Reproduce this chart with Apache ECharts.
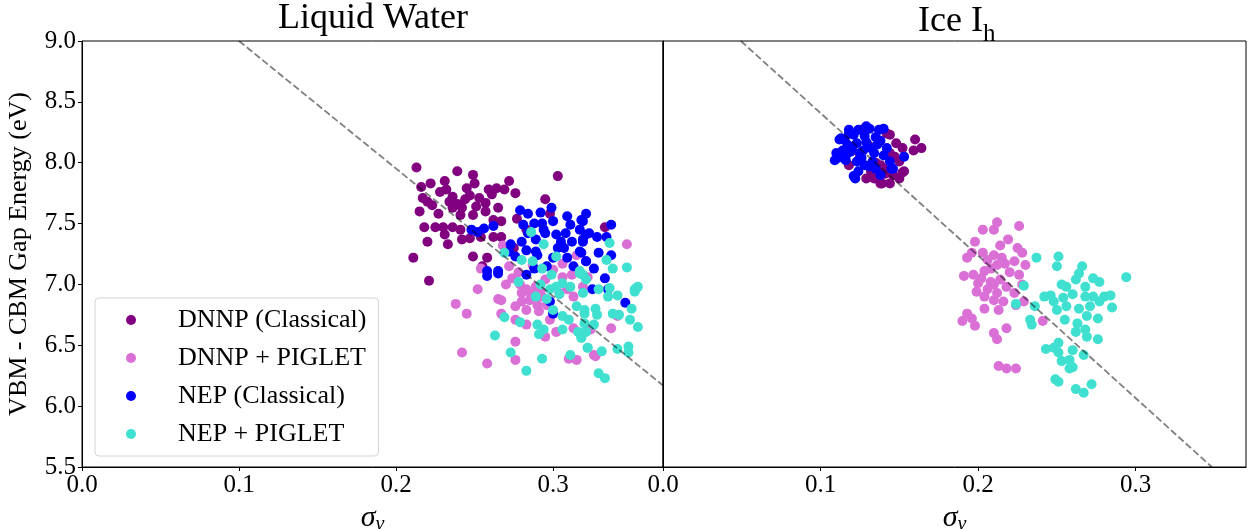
<!DOCTYPE html>
<html>
<head>
<meta charset="utf-8">
<script src="https://cdn.jsdelivr.net/npm/echarts@6/dist/echarts.min.js"></script>
<style>
html,body{margin:0;padding:0;background:#fff;}
#chart{width:1248px;height:529px;}
</style>
</head>
<body>
<div id="chart"></div>
<script>
// ---------- data (sigma_nu, gap energy in eV) ----------
const seriesNames = ['DNNP (Classical)', 'DNNP + PIGLET', 'NEP (Classical)', 'NEP + PIGLET'];
const seriesColors = ['#800080', '#DA70D6', '#0000FF', '#40E0D0'];
const panelTitles = ['Liquid Water', 'Ice I', 'h'];
const yLabel = 'VBM - CBM Gap Energy (eV)';
const xTicks = [0.0, 0.1, 0.2, 0.3];
const yTicks = [5.5, 6.0, 6.5, 7.0, 7.5, 8.0, 8.5, 9.0];

const liquidDnnpClassical = [[0.213,7.96],[0.239,7.93],[0.249,7.90],[0.303,7.89],[0.231,7.85],[0.222,7.83],[0.250,7.83],[0.272,7.85],[0.264,7.79],[0.259,7.78],[0.269,7.78],[0.276,7.75],[0.216,7.80],[0.217,7.71],[0.220,7.68],[0.223,7.65],[0.232,7.78],[0.236,7.72],[0.245,7.79],[0.247,7.73],[0.253,7.71],[0.257,7.67],[0.251,7.64],[0.242,7.63],[0.236,7.63],[0.234,7.68],[0.265,7.63],[0.257,7.60],[0.249,7.57],[0.241,7.57],[0.215,7.60],[0.295,7.70],[0.298,7.58],[0.277,7.54],[0.267,7.52],[0.218,7.47],[0.225,7.47],[0.230,7.47],[0.236,7.47],[0.231,7.41],[0.241,7.45],[0.247,7.38],[0.242,7.37],[0.254,7.39],[0.262,7.39],[0.267,7.39],[0.220,7.35],[0.233,7.33],[0.211,7.22],[0.249,7.23],[0.258,7.22],[0.221,7.03],[0.255,7.15],[0.333,7.47],[0.228,7.76],[0.244,7.70],[0.261,7.74],[0.239,7.66],[0.227,7.58],[0.262,7.53],[0.275,7.30],[0.283,7.45]];
const liquidDnnpPiglet = [[0.252,6.96],[0.238,6.84],[0.245,6.76],[0.265,6.88],[0.267,6.87],[0.267,6.76],[0.276,6.82],[0.276,6.71],[0.283,6.67],[0.242,6.44],[0.258,6.35],[0.276,6.53],[0.276,6.38],[0.295,6.57],[0.302,6.61],[0.310,6.39],[0.315,6.38],[0.313,6.64],[0.283,6.96],[0.285,6.87],[0.289,6.98],[0.274,7.05],[0.295,7.04],[0.306,7.06],[0.283,6.79],[0.291,6.78],[0.298,6.71],[0.327,6.41],[0.337,6.64],[0.341,6.74],[0.324,6.63],[0.347,7.33],[0.326,6.42],[0.268,7.32],[0.254,7.13],[0.306,7.17],[0.315,7.24],[0.287,7.16],[0.279,7.00],[0.286,6.92],[0.293,6.90],[0.296,6.83],[0.280,6.86],[0.290,6.83],[0.304,6.93],[0.309,6.96],[0.313,6.90],[0.319,6.98],[0.322,7.06],[0.278,7.10],[0.270,7.00],[0.272,7.15],[0.300,7.12],[0.312,7.08],[0.280,6.93],[0.292,6.95]];
const liquidNepClassical = [[0.279,7.61],[0.284,7.58],[0.292,7.59],[0.299,7.63],[0.309,7.56],[0.318,7.53],[0.281,7.49],[0.288,7.50],[0.293,7.50],[0.300,7.52],[0.311,7.49],[0.317,7.45],[0.248,7.45],[0.252,7.43],[0.256,7.46],[0.262,7.48],[0.284,7.42],[0.295,7.42],[0.302,7.41],[0.308,7.42],[0.321,7.41],[0.273,7.33],[0.280,7.35],[0.289,7.37],[0.305,7.35],[0.312,7.35],[0.319,7.37],[0.272,7.27],[0.283,7.28],[0.289,7.27],[0.307,7.30],[0.317,7.27],[0.276,7.23],[0.290,7.24],[0.300,7.22],[0.309,7.22],[0.321,7.19],[0.258,7.11],[0.265,7.11],[0.321,7.58],[0.319,7.52],[0.337,7.49],[0.323,7.42],[0.328,7.39],[0.334,7.39],[0.319,7.35],[0.318,7.26],[0.329,7.26],[0.337,7.24],[0.321,7.19],[0.326,7.13],[0.333,7.05],[0.325,6.96],[0.335,6.96],[0.346,6.85],[0.258,7.07],[0.265,7.09],[0.283,7.08],[0.298,6.86],[0.300,6.76],[0.294,7.45],[0.303,7.30],[0.313,7.15],[0.296,7.15],[0.288,7.13]];
const liquidNepPiglet = [[0.278,7.02],[0.269,6.73],[0.279,6.69],[0.263,6.58],[0.273,6.44],[0.283,6.29],[0.293,6.39],[0.311,6.42],[0.290,6.67],[0.294,6.63],[0.291,6.59],[0.306,6.63],[0.316,6.61],[0.318,6.56],[0.322,6.48],[0.315,6.82],[0.320,6.76],[0.289,6.90],[0.292,7.00],[0.298,6.96],[0.302,6.98],[0.306,7.01],[0.311,6.98],[0.300,6.79],[0.306,6.74],[0.310,6.71],[0.317,7.09],[0.299,7.08],[0.336,7.34],[0.338,7.13],[0.334,7.20],[0.319,7.08],[0.321,7.04],[0.319,6.93],[0.329,6.96],[0.336,6.97],[0.335,6.90],[0.341,6.91],[0.353,6.97],[0.352,6.94],[0.350,6.80],[0.338,6.76],[0.342,6.75],[0.349,6.71],[0.354,6.65],[0.320,6.79],[0.327,6.80],[0.328,6.75],[0.326,6.67],[0.320,6.68],[0.321,6.61],[0.318,6.57],[0.322,6.48],[0.331,6.45],[0.341,6.47],[0.348,6.49],[0.348,6.44],[0.329,6.27],[0.333,6.23],[0.286,7.43],[0.294,7.33],[0.302,7.23],[0.287,7.19],[0.280,7.20],[0.269,7.26],[0.317,7.11],[0.293,7.13],[0.347,7.14],[0.352,6.96],[0.354,6.98],[0.304,6.92],[0.296,6.88]];

const iceDnnpClassical = [[0.160,8.19],[0.164,8.12],[0.159,8.10],[0.144,8.23],[0.148,8.16],[0.152,8.12],[0.144,8.08],[0.150,8.01],[0.138,7.98],[0.132,7.93],[0.134,7.87],[0.139,7.83],[0.144,7.83],[0.150,7.87],[0.153,7.93],[0.146,7.90],[0.141,7.91],[0.129,7.87],[0.126,8.27],[0.120,8.10],[0.125,8.05],[0.130,8.15],[0.118,7.98],[0.152,7.92],[0.138,7.83],[0.142,8.24],[0.147,8.05],[0.140,7.95],[0.135,8.00]];
const iceDnnpPiglet = [[0.203,7.45],[0.212,7.51],[0.226,7.48],[0.210,7.45],[0.198,7.35],[0.219,7.37],[0.214,7.32],[0.225,7.30],[0.196,7.26],[0.203,7.26],[0.210,7.24],[0.228,7.26],[0.193,7.22],[0.191,7.07],[0.197,7.08],[0.204,7.11],[0.208,7.13],[0.212,7.16],[0.217,7.17],[0.223,7.19],[0.230,7.16],[0.226,7.08],[0.200,7.01],[0.208,7.02],[0.214,7.04],[0.218,6.98],[0.199,6.94],[0.206,6.96],[0.212,6.93],[0.204,6.90],[0.210,6.87],[0.216,6.86],[0.204,6.80],[0.213,6.79],[0.229,6.86],[0.223,6.93],[0.228,7.00],[0.241,6.70],[0.193,6.76],[0.196,6.72],[0.190,6.70],[0.198,6.66],[0.218,6.64],[0.210,6.60],[0.212,6.55],[0.213,6.33],[0.218,6.31],[0.224,6.31],[0.224,6.83],[0.215,7.22],[0.206,7.20],[0.220,7.10],[0.202,7.05],[0.210,7.00]];
const iceNepClassical = [[0.113,8.20],[0.118,8.24],[0.124,8.27],[0.131,8.28],[0.137,8.27],[0.140,8.28],[0.111,8.04],[0.116,8.02],[0.123,8.01],[0.121,7.89],[0.124,7.93],[0.131,7.97],[0.138,7.90],[0.146,7.95],[0.153,8.05],[0.144,8.01],[0.117,8.15],[0.123,8.16],[0.129,8.17],[0.136,8.15],[0.142,8.12],[0.119,8.09],[0.127,8.10],[0.134,8.08],[0.140,8.06],[0.126,8.04],[0.133,8.01],[0.115,8.19],[0.121,8.23],[0.135,8.21],[0.112,8.19],[0.122,7.87],[0.109,8.02],[0.129,8.30],[0.118,8.27],[0.145,7.95],[0.114,8.10],[0.120,8.13],[0.128,8.22],[0.132,8.12],[0.125,8.08],[0.138,8.18],[0.110,8.08],[0.116,8.06],[0.128,7.98],[0.135,7.95]];
const iceNepPiglet = [[0.237,7.22],[0.251,7.23],[0.250,7.15],[0.266,7.15],[0.264,7.09],[0.262,7.04],[0.273,7.05],[0.277,7.02],[0.294,7.06],[0.253,7.00],[0.256,6.98],[0.268,6.98],[0.229,6.99],[0.242,6.90],[0.246,6.91],[0.254,6.89],[0.260,6.92],[0.268,6.90],[0.273,6.90],[0.280,6.90],[0.284,6.91],[0.224,6.84],[0.236,6.82],[0.248,6.86],[0.250,6.79],[0.256,6.82],[0.264,6.80],[0.271,6.82],[0.277,6.86],[0.285,6.81],[0.233,6.71],[0.234,6.67],[0.255,6.71],[0.263,6.68],[0.269,6.74],[0.276,6.72],[0.262,6.61],[0.268,6.63],[0.269,6.57],[0.276,6.55],[0.243,6.47],[0.251,6.52],[0.248,6.48],[0.251,6.44],[0.260,6.46],[0.267,6.42],[0.253,6.37],[0.258,6.38],[0.260,6.32],[0.258,6.31],[0.249,6.22],[0.251,6.20],[0.262,6.14],[0.267,6.11],[0.272,6.18]];

const liquidFitLine = [[0.1, 9.0], [0.37, 6.17]];
const iceFitLine = [[0.0494, 9.0], [0.3483, 5.5]];

// ---------- chart ----------
const FONT = 'Liberation Serif';
const chart = echarts.init(document.getElementById('chart'), null, {renderer: 'canvas'});

const liquidSets = [liquidDnnpClassical, liquidDnnpPiglet, liquidNepClassical, liquidNepPiglet];
const iceSets = [iceDnnpClassical, iceDnnpPiglet, iceNepClassical, iceNepPiglet];

function scatter(name, color, data, idx) {
  return {
    type: 'scatter', name: name, xAxisIndex: idx, yAxisIndex: idx,
    data: data, symbol: 'circle', symbolSize: 10,
    itemStyle: {color: color, opacity: 1}, silent: true, animation: false
  };
}
const series = [];
seriesNames.forEach((n, i) => series.push(scatter(n, seriesColors[i], liquidSets[i], 0)));
seriesNames.forEach((n, i) => series.push(scatter(n, seriesColors[i], iceSets[i], 1)));
[liquidFitLine, iceFitLine].forEach((d, i) => series.push({
  type: 'line', name: 'fit', xAxisIndex: i, yAxisIndex: i, data: d,
  symbol: 'none', silent: true, animation: false, z: 5,
  lineStyle: {color: 'rgba(0,0,0,0.5)', width: 1.8, type: [7, 3]}
}));

const xName = '{s|σ}{n|ν}';
const xNameStyle = {
  rich: {
    s: {fontFamily: FONT, fontStyle: 'italic', fontSize: 30, lineHeight: 30, verticalAlign: 'top', color: '#000'},
    n: {fontFamily: FONT, fontStyle: 'italic', fontSize: 20, lineHeight: 20, verticalAlign: 'top', padding: [12, 0, 0, 0], color: '#000'}
  }
};
function xAxis(idx) {
  return {
    type: 'value', gridIndex: idx, min: 0, max: 0.37, interval: 0.1,
    name: xName, nameLocation: 'middle', nameGap: 34, nameTextStyle: xNameStyle,
    axisLine: {show: true, lineStyle: {color: '#000', width: 1}},
    axisTick: {show: true, length: 4, lineStyle: {color: '#000'}},
    axisLabel: {fontFamily: FONT, fontSize: 25, color: '#000', margin: 6, showMaxLabel: false, formatter: v => v.toFixed(1)},
    splitLine: {show: false}
  };
}
function yAxis(idx) {
  const show = idx === 0;
  return {
    type: 'value', gridIndex: idx, min: 5.5, max: 9.0, interval: 0.5,
    name: show ? yLabel : '', nameLocation: 'middle', nameGap: 50,
    nameTextStyle: {fontFamily: FONT, fontSize: 26, color: '#000'},
    axisLine: {show: true, lineStyle: {color: '#000', width: 1}},
    axisTick: {show: show, length: 4, lineStyle: {color: '#000'}},
    axisLabel: {show: show, fontFamily: FONT, fontSize: 25, color: '#000', margin: 6, formatter: v => v.toFixed(1)},
    splitLine: {show: false}
  };
}

chart.setOption({
  animation: false,
  backgroundColor: '#fff',
  grid: [
    {left: 82, top: 41, width: 581, height: 426, show: true, borderColor: '#000', borderWidth: 1, containLabel: false, outerBoundsMode: 'none'},
    {left: 663, top: 41, width: 583, height: 426, show: true, borderColor: '#000', borderWidth: 1, containLabel: false, outerBoundsMode: 'none'}
  ],
  xAxis: [xAxis(0), xAxis(1)],
  yAxis: [yAxis(0), yAxis(1)],
  legend: {
    data: seriesNames, orient: 'vertical', left: 95, top: 298,
    padding: [9, 12, 9, 31], itemGap: 12, itemWidth: 10, itemHeight: 10, icon: 'circle',
    backgroundColor: 'rgba(255,255,255,0.8)', borderColor: '#d4d4d4', borderWidth: 1, borderRadius: 4,
    textStyle: {fontFamily: FONT, fontSize: 26, color: '#000', lineHeight: 25, padding: [0, 0, 0, 37]},
    selectedMode: false
  },
  graphic: [
    {type: 'text', x: 373, y: 19, style: {text: panelTitles[0], font: '36px "Liberation Serif"', fill: '#000', align: 'center', verticalAlign: 'middle'}},
    {type: 'text', x: 918, y: 22, style: {text: panelTitles[1], font: '36px "Liberation Serif"', fill: '#000', align: 'left', verticalAlign: 'middle'}},
    {type: 'text', x: 983, y: 34, style: {text: panelTitles[2], font: '25px "Liberation Serif"', fill: '#000', align: 'left', verticalAlign: 'middle'}}
  ],
  series: series
});
</script>
</body>
</html>
